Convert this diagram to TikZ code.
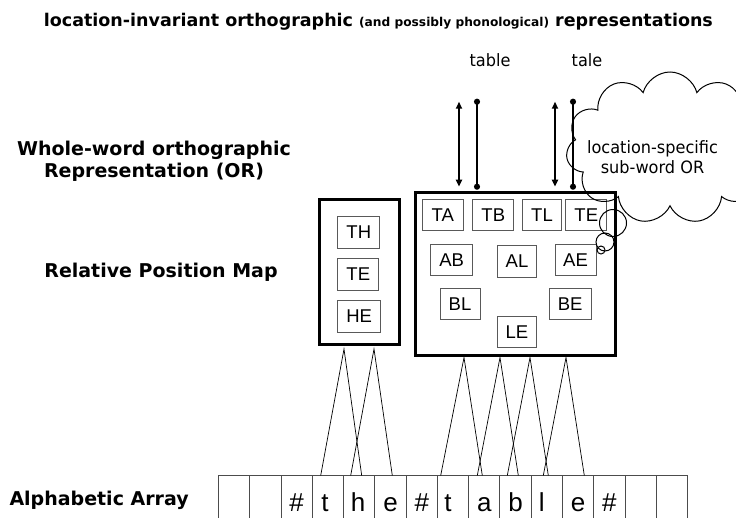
\documentclass[tikz,border=0pt]{standalone}
\usepackage{fontspec}
\setmainfont{Liberation Sans}
\newfontfamily\verd{DejaVu Sans}
\newfontfamily\tah[FakeStretch=0.95]{DejaVu Sans}
\usetikzlibrary{arrows.meta,shapes.symbols}
\tikzset{
  outerbox/.style={draw, line width=3pt, inner sep=0pt},
  sub/.style={draw=black!65, line width=1pt, minimum height=31.6pt, inner sep=0pt, font=\fontsize{18.5}{18.5}\selectfont},
  cell/.style={draw=black!70, line width=0.9pt, minimum width=31.27pt, minimum height=44.5pt, inner sep=0pt},
  letter/.style={inner sep=0pt, font=\fontsize{26}{26}\selectfont},
  conn/.style={line width=0.7pt},
  dbl/.style={line width=1.8pt, {Triangle[width=6pt,length=7pt]}-{Triangle[width=6pt,length=7pt]}},
  dotl/.style={line width=1.8pt, {Circle[length=6pt]}-{Circle[length=6pt]}},
  lab/.style={inner sep=0pt, align=center, font=\verd\bfseries\fontsize{19}{22.7}\selectfont},
  word/.style={inner sep=0pt, align=center, font=\tah\fontsize{17}{20}\selectfont},
  bub/.style={draw, circle, line width=1pt, inner sep=0pt}
}
\begin{document}
\begin{tikzpicture}[x=1pt,y=-1pt]
\useasboundingbox (0,0) rectangle (736,517);
\clip (0,0) rectangle (736,517);

% title
\node[inner sep=0pt, font=\verd\bfseries\fontsize{17.5}{20}\selectfont] (title) at (378.4,21.7)
  {location-invariant orthographic {\fontsize{12.2}{14}\selectfont (and possibly phonological)} representations};

% left labels
\node[lab] (whole) at (154,161.3) {Whole-word orthographic\\Representation (OR)};
\node[lab] (rpm) at (161,272.7) {Relative Position Map};
\node[lab, anchor=west] (aa) at (9.3,500) {Alphabetic Array};

% outer boxes
\node[outerbox, minimum width=80pt, minimum height=145pt] (lbox) at (359,271.5) {};
\node[outerbox, minimum width=200pt, minimum height=163.3pt] (bbox) at (515.7,274.3) {};

% inner boxes
\node[sub, minimum width=42.3pt] (TH) at (358.8,232.5) {TH};
\node[sub, minimum width=41.3pt] (TEl) at (358.3,274.2) {TE};
\node[sub, minimum width=43pt] (HE) at (359.2,316.5) {HE};
\node[sub, minimum width=41pt] (TA) at (442.8,214.9) {TA};
\node[sub, minimum width=41.3pt] (TB) at (493.3,214.9) {TB};
\node[sub, minimum width=39.4pt] (TL) at (542,214.9) {TL};
\node[sub, minimum width=40.7pt] (TE) at (586.3,214.9) {TE};
\node[sub, minimum width=42pt] (AB) at (451.7,260) {AB};
\node[sub, minimum width=39.4pt] (AL) at (517,261.5) {AL};
\node[sub, minimum width=41pt] (AE) at (575.5,260) {AE};
\node[sub, minimum width=40pt, minimum height=31pt] (BL) at (460,303.8) {BL};
\node[sub, minimum width=41.7pt, minimum height=31pt] (BE) at (570.2,303.8) {BE};
\node[sub, minimum width=39.4pt, minimum height=31.3pt] (LE) at (517,331.7) {LE};

% words and arrows
\node[word] (table) at (490,60) {table};
\node[word] (tale) at (587,60) {tale};
\coordinate (a1t) at (459,101.7);
\coordinate (a1b) at (459,186.7);
\coordinate (d1t) at (477,98.7);
\coordinate (d1b) at (477,189.7);
\coordinate (a2t) at (555,101.7);
\coordinate (a2b) at (555,186.7);
\coordinate (d2t) at (573,98.7);
\coordinate (d2b) at (573,189.7);
\draw[dbl] (a1t) -- (a1b);
\draw[dotl] (d1t) -- (d1b);
\draw[dbl] (a2t) -- (a2b);
\draw[dotl] (d2t) -- (d2b);

% cloud
\node[cloud, draw, line width=1pt, cloud puffs=11, cloud ignores aspect,
      minimum width=208pt, minimum height=152pt] (cloud) at (670,148) {};
\node[word] (ctext) at (652.5,156.7) {location-specific\\sub-word OR};
\node[bub, minimum size=27pt] (b1) at (613,223) {};
\node[bub, minimum size=18pt] (b2) at (605,242) {};
\node[bub, minimum size=8pt] (b3) at (601,250) {};

% alphabetic array
\foreach \i in {1,...,15} {
  \node[cell] (c\i) at ({218.5+31.27*(\i-0.5)},497.75) {};
}
\foreach \i/\ch/\dx in {3/\#/0, 4/t/-3, 5/h/-1, 6/e/0, 7/\#/0, 8/t/-5, 9/a/0, 10/b/0, 11/l/-5, 12/e/0, 13/\#/0} {
  \path (c\i.center) ++(\dx,13.75) node[letter, anchor=base] (L\i) {\ch};
}

% connectors
\coordinate (l1) at (344,349);
\coordinate (l2) at (374,349);
\coordinate (k1) at (464,357.5);
\coordinate (k2) at (500,357.5);
\coordinate (k3) at (530,357.5);
\coordinate (k4) at (566,357.5);
\foreach \n/\x in {e1/320.7, e2/361.7, e3/350.7, e4/392.3, e5/440.7, e6/482.3, e7/477.3, e8/518.3, e9/507.3, e10/548.3, e11/543.3, e12/584.3} {
  \coordinate (\n) at (\x,475.5);
}
\draw[conn] (e1) -- (l1) -- (e2);
\draw[conn] (e3) -- (l2) -- (e4);
\draw[conn] (e5) -- (k1) -- (e6);
\draw[conn] (e7) -- (k2) -- (e8);
\draw[conn] (e9) -- (k3) -- (e10);
\draw[conn] (e11) -- (k4) -- (e12);
\end{tikzpicture}
\end{document}
